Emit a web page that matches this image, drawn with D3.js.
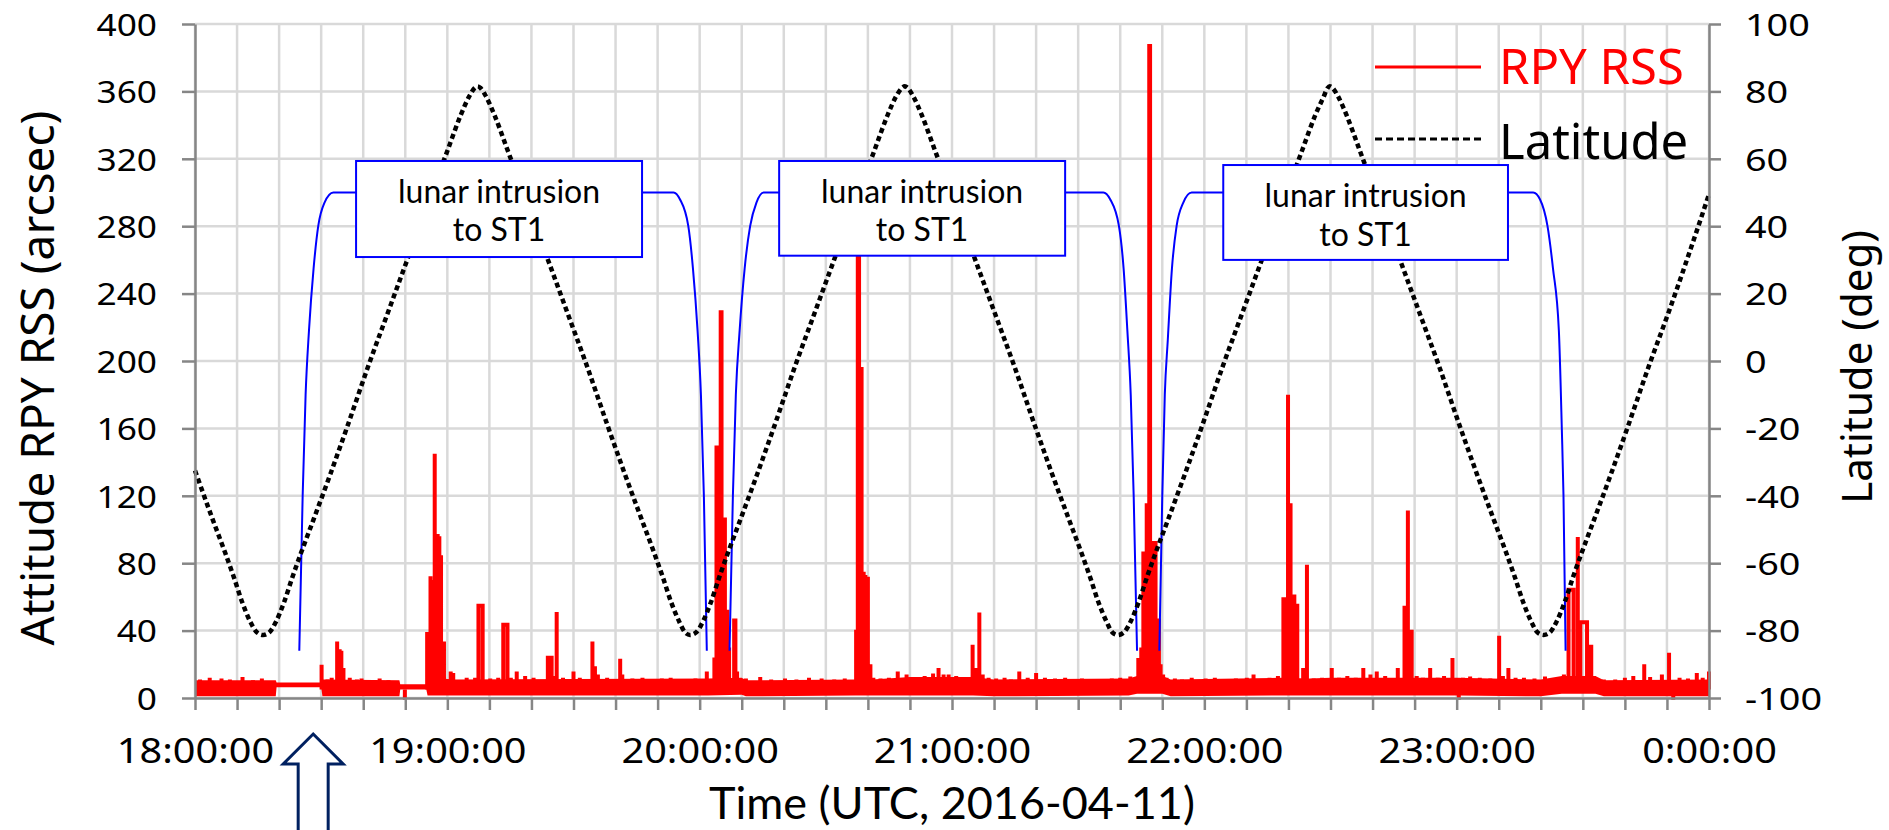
<!DOCTYPE html>
<html>
<head>
<meta charset="utf-8">
<script src="https://cdn.jsdelivr.net/npm/d3@7"></script>
<style>
  body { margin: 0; background: #fff; }
  svg { display: block; font-family: "Noto Sans", sans-serif; }
</style>
</head>
<body>
<div id="chart-area"></div>
<script>
// margens do gráfico
const MARGIN = { LEFT: 195, RIGHT: 180, TOP: 24, BOTTOM: 132 }
const WIDTH = 1889 - MARGIN.LEFT - MARGIN.RIGHT
const HEIGHT = 830 - MARGIN.TOP - MARGIN.BOTTOM

// eixos - valores das marcas
const leftTicks = [0, 40, 80, 120, 160, 200, 240, 280, 320, 360, 400]
const rightTicks = [-100, -80, -60, -40, -20, 0, 20, 40, 60, 80, 100]
const xTickLabels = ["18:00:00", "19:00:00", "20:00:00", "21:00:00", "22:00:00", "23:00:00", "0:00:00"]
const xGridMinutes = d3.range(0, 361, 10)

// latitude (deg) - [minutos depois de 18:00, valor]
const latitude = [
  [0, -32.5], [4.2, -47], [7.2, -57], [9.2, -64], [11.2, -71.5], [13.2, -77.5], [14.7, -80.5], [16.2, -81.3],
  [17.7, -80.5], [19.2, -77.5], [21.2, -71.5], [23.2, -64], [25.2, -57], [28.2, -47], [32.2, -33.5], [36.2, -19.5],
  [41.2, -1.5], [46.2, 15.5], [51.2, 32.5], [56.2, 49.5], [60.2, 63], [63.2, 73], [65.2, 78.5], [66.5, 81], [67.2, 81.5],
  [67.9, 81], [69.2, 78.5], [71.2, 73], [74.2, 63], [78.2, 49.5], [83.2, 32.5], [88.2, 15.5], [93.2, -1.5],
  [98.2, -19.5], [102.2, -33.5], [106.2, -47], [109.2, -57], [111.2, -64], [113.2, -71.5], [115.2, -77.5], [116.5, -80.5], [117.7, -81.3],
  [119.2, -80.5], [120.7, -77.5], [122.7, -71.5], [124.7, -64], [126.7, -57], [129.7, -47], [133.7, -33.5], [137.7, -19.5],
  [142.7, -1.5], [147.7, 15.5], [152.7, 32.5], [157.7, 49.5], [161.7, 63], [164.7, 73], [166.7, 78.5], [168.1, 81], [168.8, 81.5],
  [169.5, 81], [170.8, 78.5], [172.8, 73], [175.8, 63], [179.8, 49.5], [184.8, 32.5], [189.8, 15.5], [194.8, -1.5],
  [199.8, -19.5], [203.8, -33.5], [207.8, -47], [210.8, -57], [212.8, -64], [214.8, -71.5], [216.8, -77.5], [218.1, -80.5], [219.4, -81.3],
  [220.9, -80.5], [222.4, -77.5], [224.4, -71.5], [226.4, -64], [228.4, -57], [231.4, -47], [235.4, -33.5], [239.4, -19.5],
  [244.4, -1.5], [249.4, 15.5], [254.4, 32.5], [259.4, 49.5], [263.4, 63], [266.4, 73], [268.4, 78.5], [269.3, 81], [269.8, 81.5],
  [270.5, 81], [271.8, 78.5], [273.8, 73], [276.8, 63], [280.8, 49.5], [285.8, 32.5], [290.8, 15.5], [295.8, -1.5],
  [300.8, -19.5], [304.8, -33.5], [308.8, -47], [311.8, -57], [313.8, -64], [315.8, -71.5], [317.8, -77.5], [319.2, -80.5], [320.7, -81.3],
  [322.2, -80.5], [323.7, -77.5], [325.7, -71.5], [327.7, -64], [329.7, -57], [332.7, -47], [336.7, -33.5], [340.7, -19.5],
  [345.7, -1.5], [350.7, 15.5], [355.7, 33.5], [360, 49.5]
]

// intrusão lunar no ST1 (curva azul, eixo esquerdo) - null separa os trechos
const intrusion = [
  [24.8, 28], [25.6, 120], [26.3, 180], [27.1, 218], [28.2, 255], [29.3, 280], [30.8, 294], [32.9, 300],
  [113.8, 300], [115.3, 296], [117.3, 280], [118.4, 255], [119.5, 218], [120.3, 180], [121.0, 120], [121.7, 28],
  null,
  [127.1, 28], [127.9, 120], [128.6, 180], [129.5, 218], [130.7, 255], [132.0, 280], [133.5, 294], [135.2, 300],
  [216.0, 300], [217.6, 296], [219.7, 280], [220.8, 255], [221.7, 218], [222.5, 180], [223.2, 120], [224.0, 28],
  null,
  [229.3, 28], [230.0, 120], [230.6, 180], [231.3, 212], [232.3, 255], [233.4, 280], [235.0, 294], [237.0, 300],
  [318.2, 300], [319.8, 296], [321.6, 280], [322.9, 255], [324.3, 218], [325.0, 160], [325.4, 120], [325.9, 28]
]

// RPY RSS - faixa de ruído [minuto, mínimo, máximo]
const rssBand = [
  [0, 1, 10.5], [19.2, 1, 10.5], [19.4, 6.4, 9.2], [30, 6.4, 9.2], [30.3, 1, 11], [48.6, 1, 10.5],
  [48.8, 5, 8.2], [55, 5, 8.2], [55.3, 1.5, 12], [62, 1.5, 11], [122, 1.5, 11.5], [130, 2, 12], [131, 1, 10.5],
  [157, 1.5, 11], [161, 1.5, 11], [170, 1.5, 12.5], [185, 1.5, 12.5], [190, 1, 11], [222, 1.5, 11.5], [224, 2.5, 13],
  [230, 2.5, 13], [232, 1, 11], [258, 1.5, 12], [265, 1.5, 11.5], [270, 1.5, 12], [300, 1.5, 12], [320, 1, 11],
  [325, 2.5, 13], [333, 2.5, 13], [335, 1, 10.5], [360, 1, 11]
]

// RPY RSS - picos [minuto início, minuto fim, valor]
const rssSpikes = [
  [1.2, 1.2, 11], [3.5, 3.5, 12], [6.3, 6.3, 11.5], [8.3, 8.3, 11], [11.3, 11.3, 12.5], [13.8, 13.8, 10.5], [15.9, 15.9, 11.5],
  [30.1, 30.1, 19.8], [31.5, 31.5, 11], [32.5, 32.5, 12], [33.8, 33.8, 33.6], [34.4, 34.4, 29], [34.8, 34.8, 28], [35.3, 35.3, 17.8],
  [36.8, 36.8, 12], [38.5, 38.5, 11], [39.6, 39.6, 11.5], [41.5, 41.5, 10.5], [43.9, 43.9, 11.5], [46, 46, 10.5], [49.9, 49.9, -1],
  [55.2, 55.2, 39.2], [55.6, 55.6, 38], [56.0, 56.0, 72.2], [56.5, 56.5, 70], [57.0, 57.0, 144.9], [57.7, 57.7, 97.4],
  [58.1, 58.1, 96], [58.5, 58.5, 84.7], [59.2, 59.2, 33.6], [60.8, 60.8, 15.8], [61.4, 61.4, 14.8],
  [64.6, 64.6, 12], [66.6, 66.6, 12], [67.4, 68.4, 54.7], [70.2, 70.2, 11.5], [72.1, 72.1, 12], [73.3, 74.3, 43.5],
  [75.1, 75.1, 12], [76.5, 76.5, 15.8], [78.5, 78.5, 13], [80.5, 80.5, 12],
  [83.9, 84.8, 23.9], [85.3, 85.3, 13], [86.0, 86.0, 51], [87.5, 87.5, 12], [90.0, 90.0, 15.8], [91.5, 91.5, 12],
  [94.5, 94.5, 33.6], [95.1, 95.1, 18.8], [95.8, 95.8, 14], [98, 98, 12], [100.3, 100.3, 11], [101.1, 101.1, 23.3],
  [101.6, 101.6, 14], [104, 104, 11.5], [106.4, 106.4, 12], [109, 109, 11], [111, 111, 11.5], [113.1, 113.1, 12],
  [115.5, 115.5, 11], [117, 117, 11], [119, 119, 11.5], [121.7, 121.7, 15.8],
  [123.5, 123.5, 24], [124.0, 124.6, 148.6], [125.0, 125.2, 229], [125.7, 126.0, 106], [126.6, 126.6, 52.4],
  [127.0, 127.0, 30], [128.2, 128.5, 46], [128.9, 128.9, 15.8],
  [131, 131, 11.5], [134.4, 134.4, 12.5], [137, 137, 11], [140.3, 140.3, 11.5], [143, 143, 11], [146, 146, 12],
  [149, 149, 11.5], [152, 152, 11], [154.5, 154.5, 11.5],
  [157.2, 157.2, 40.5], [157.6, 157.9, 280], [158.5, 158.5, 196.4], [159.0, 159.0, 75], [159.4, 159.4, 73],
  [160.0, 160.0, 72], [160.6, 160.6, 20], [161.3, 161.3, 12],
  [163, 163, 11.5], [165, 165, 12], [167.1, 167.1, 15.8], [169.2, 169.2, 14], [171, 171, 12], [173.5, 173.5, 13],
  [175.5, 175.5, 14.5], [176.8, 176.8, 17.8], [178, 178, 14], [179.2, 179.2, 14], [181, 181, 13], [183, 183, 12],
  [184.9, 184.9, 31.6], [185.8, 185.8, 17.8], [186.5, 186.5, 50.8], [187.3, 187.3, 14], [188.7, 188.7, 12],
  [190.5, 190.5, 11.5], [192.5, 192.5, 12], [194, 194, 11], [196.0, 196.0, 15.8], [198, 198, 12], [200.0, 200.0, 14.8],
  [202.1, 202.1, 12], [204.5, 204.5, 11.5], [206.9, 206.9, 12], [209, 209, 11], [210.9, 210.9, 11.5], [213.2, 213.2, 11],
  [215.5, 215.5, 11], [218, 218, 11.5], [220, 220, 12], [222.4, 222.4, 12.8],
  [224.3, 224.3, 23.7], [225.0, 225.0, 30], [225.5, 225.5, 87], [226.3, 226.3, 115.6], [226.9, 227.1, 387],
  [227.5, 228.4, 92], [228.6, 229.2, 46], [229.6, 229.6, 20], [230.2, 230.2, 14],
  [231, 231, 12], [233, 233, 11.5], [234.7, 234.7, 11], [237, 237, 12], [240.3, 240.3, 11.5], [242.5, 242.5, 12],
  [245, 245, 11], [247.5, 247.5, 11.5], [250.1, 250.1, 12], [251.7, 251.7, 14], [253.5, 253.5, 11], [255.5, 255.5, 12],
  [257.5, 257.5, 13],
  [258.8, 259.5, 58.6], [259.9, 259.9, 180], [260.5, 260.5, 115.6], [261.2, 261.4, 60.3], [262.0, 262.1, 54.7],
  [263.5, 263.5, 17.8], [264.4, 264.4, 79.1],
  [266, 266, 11.5], [268, 268, 12], [270.3, 270.3, 17.8], [272, 272, 12], [274, 274, 13], [276, 276, 12],
  [277.8, 277.8, 17.8], [279.5, 279.5, 14], [281.0, 281.0, 15.8], [283, 283, 13], [286.0, 286.0, 17.8],
  [287.6, 287.6, 54.7], [288.4, 288.4, 111.3], [289.3, 289.3, 40.5], [290.5, 290.5, 13], [292, 292, 12],
  [293.7, 293.7, 17.8], [295.5, 295.5, 12], [297, 297, 13], [299.0, 299.0, 23.7], [300.5, 300.5, -1], [301.5, 301.5, 12],
  [303.2, 303.2, 12.8], [305.5, 305.5, 12], [308, 308, 11.5], [310.1, 310.1, 37], [311, 311, 13], [312.3, 312.3, 17.8],
  [314, 314, 12], [316, 316, 12], [318.5, 318.5, 11.5], [321.0, 321.0, 12.8], [323, 323, 11.5], [325.5, 325.5, 14],
  [326.6, 327.8, 64.3], [328.8, 328.8, 95.5], [329.4, 331.0, 45], [331.4, 332.0, 30.4], [332.6, 332.6, 13],
  [335, 335, 11], [337.7, 337.7, 11], [340, 340, 12], [342, 342, 13], [344.6, 344.6, 20], [346, 346, 12.5],
  [348.8, 348.8, 14], [350.5, 350.5, 26.9], [351.5, 351.5, -1], [353, 353, 12], [355, 355, 11.5], [357.1, 357.1, 14.8],
  [358.5, 358.5, 12], [360, 360, 15.8]
]

// caixas de anotação [minuto início, minuto fim, topo, base] (eixo esquerdo)
const boxes = [[38.3, 106.3, 318.7, 261.7], [138.9, 206.9, 318.7, 262.5], [244.5, 312.2, 316.3, 260]]
const boxText = ["lunar intrusion", "to ST1"]
const arrowTime = 28.1

// svg canvas
const svg = d3.select("#chart-area").append("svg")
  .attr("width", WIDTH + MARGIN.LEFT + MARGIN.RIGHT)
  .attr("height", HEIGHT + MARGIN.TOP + MARGIN.BOTTOM)

const g = svg.append("g")
  .attr("transform", `translate(${MARGIN.LEFT}, ${MARGIN.TOP})`)

// escalas
const x = d3.scaleLinear().domain([0, 360]).range([0, WIDTH])
const y = d3.scaleLinear().domain([0, 400]).range([HEIGHT, 0])
const y2 = d3.scaleLinear().domain([-100, 100]).range([HEIGHT, 0])

// grade
g.append("g").selectAll("line").data(leftTicks).join("line")
  .attr("x1", 0).attr("x2", WIDTH)
  .attr("y1", d => y(d)).attr("y2", d => y(d))
  .attr("stroke", "#d9d9d9").attr("stroke-width", 2.5)
g.append("g").selectAll("line").data(xGridMinutes).join("line")
  .attr("x1", d => x(d)).attr("x2", d => x(d))
  .attr("y1", 0).attr("y2", HEIGHT)
  .attr("stroke", "#d9d9d9").attr("stroke-width", 2.5)

// RPY RSS - faixa + picos
g.append("path")
  .attr("fill", "#ff0000")
  .attr("d", d3.area().x(d => x(d[0])).y0(d => y(d[1])).y1(d => y(d[2]))(rssBand))
g.append("path")
  .attr("fill", "none")
  .attr("stroke", "#ff0000")
  .attr("stroke-width", 4)
  .attr("d", rssSpikes.map(s => `M${x(s[0])},${y(5)}V${y(s[2])}H${x(s[1])}V${y(5)}`).join(""))

// curva azul
g.append("path")
  .attr("fill", "none")
  .attr("stroke", "#0000ff")
  .attr("stroke-width", 2)
  .attr("d", d3.line().defined(d => d).x(d => x(d[0])).y(d => y(d[1])).curve(d3.curveMonotoneX)(intrusion))

// latitude - linha pontilhada
g.append("path")
  .attr("fill", "none")
  .attr("stroke", "#000")
  .attr("stroke-width", 4.5)
  .attr("stroke-dasharray", "5 3.5")
  .attr("d", d3.line().x(d => x(d[0])).y(d => y2(d[1])).curve(d3.curveMonotoneX)(latitude))

// caixas (texto em duas linhas com tspan)
const box = g.append("g").selectAll("g").data(boxes).join("g")
box.append("rect")
  .attr("x", d => x(d[0])).attr("y", d => y(d[2]))
  .attr("width", d => x(d[1]) - x(d[0])).attr("height", d => y(d[3]) - y(d[2]))
  .attr("fill", "#fff").attr("stroke", "#0000ff").attr("stroke-width", 2)
const boxLabel = box.append("text")
  .attr("y", d => y(d[2]) + 42)
  .attr("text-anchor", "middle")
  .attr("font-family", "Lato, sans-serif")
  .attr("font-size", "32px")
boxText.forEach((t, i) => {
  boxLabel.append("tspan")
    .attr("x", d => (x(d[0]) + x(d[1])) / 2)
    .attr("dy", i === 0 ? 0 : 38.5)
    .text(t)
})

// eixos
function styleAxis(a) {
  a.select(".domain").attr("stroke", "#868686").attr("stroke-width", 2.5)
  a.selectAll(".tick line").attr("stroke", "#868686").attr("stroke-width", 2.5)
  a.attr("font-family", null).attr("font-size", null)
  a.selectAll("text").attr("fill", "#000")
}

const xAxis = g.append("g")
  .attr("transform", `translate(0, ${HEIGHT})`)
  .call(d3.axisBottom(x).tickValues(xGridMinutes).tickSize(12).tickSizeOuter(0)
    .tickFormat(m => m % 60 === 0 ? xTickLabels[m / 60] : ""))
styleAxis(xAxis)
xAxis.selectAll("text")
  .attr("y", null).attr("dy", null)
  .attr("font-size", "34.5px")
  .attr("transform", "translate(0, 65) scale(1.15, 1)")

const yAxis = g.append("g")
  .call(d3.axisLeft(y).tickValues(leftTicks).tickSize(13).tickSizeOuter(0))
styleAxis(yAxis)
yAxis.selectAll("text")
  .attr("x", null).attr("dy", "0.36em")
  .attr("font-size", "31.5px")
  .attr("transform", "translate(-38, 0) scale(1.12, 1)")

const y2Axis = g.append("g")
  .attr("transform", `translate(${WIDTH}, 0)`)
  .call(d3.axisRight(y2).tickValues(rightTicks).tickSize(12).tickSizeOuter(0).tickFormat(d => String(d)))
styleAxis(y2Axis)
y2Axis.selectAll("text")
  .attr("x", null).attr("dy", "0.36em")
  .attr("font-size", "31.5px")
  .attr("transform", "translate(36, 0) scale(1.2, 1)")

// títulos dos eixos
g.append("text")
  .attr("x", WIDTH / 2).attr("y", HEIGHT + 121)
  .attr("text-anchor", "middle")
  .attr("font-family", "Lato, sans-serif")
  .attr("font-size", "45px")
  .text("Time (UTC, 2016-04-11)")
g.append("text")
  .attr("transform", `translate(-141, ${HEIGHT / 2 + 17}) rotate(-90)`)
  .attr("text-anchor", "middle")
  .attr("font-size", "46px")
  .text("Attitude RPY RSS (arcsec)")
g.append("text")
  .attr("transform", `translate(${WIDTH + 163}, ${HEIGHT / 2 + 6}) rotate(-90)`)
  .attr("text-anchor", "middle")
  .attr("font-size", "42px")
  .text("Latitude (deg)")

// legenda
const legend = g.append("g").attr("transform", `translate(${WIDTH - 334}, 43)`)
legend.append("line").attr("x1", 0).attr("x2", 106).attr("y1", 0).attr("y2", 0)
  .attr("stroke", "#ff0000").attr("stroke-width", 3)
legend.append("text").attr("x", 124).attr("y", 17)
  .attr("font-size", "49px").attr("fill", "#ff0000").text("RPY RSS")
legend.append("line").attr("x1", 0).attr("x2", 106).attr("y1", 72).attr("y2", 72)
  .attr("stroke", "#000").attr("stroke-width", 3).attr("stroke-dasharray", "7 4")
legend.append("text").attr("x", 124).attr("y", 92)
  .attr("font-size", "49px").attr("fill", "#000").text("Latitude")

// seta
const ax = x(arrowTime)
g.append("path")
  .attr("fill", "#fff")
  .attr("stroke", "#002060")
  .attr("stroke-width", 3)
  .attr("d", `M${ax},${HEIGHT + 36}L${ax + 30},${HEIGHT + 66}H${ax + 15}V${HEIGHT + 140}H${ax - 15}V${HEIGHT + 66}H${ax - 30}Z`)
</script>
</body>
</html>
